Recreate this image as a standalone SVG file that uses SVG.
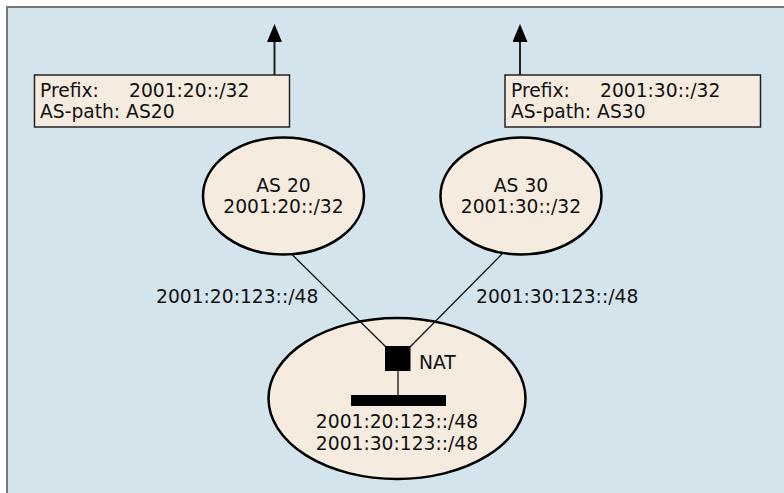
<svg xmlns="http://www.w3.org/2000/svg" width="784" height="493" viewBox="0 0 784 493">
<defs>
<style>
.t{font-family:"DejaVu Sans",Verdana,sans-serif;font-size:18.7px;fill:#111}
.c{text-anchor:middle}
.box{fill:#f5ecdf;stroke:#222;stroke-width:1.5}
.ell{fill:#f5ecdf;stroke:#000;stroke-width:2.5}
.ln{stroke:#111;stroke-width:1.3;fill:none}
.ar{stroke:#222;stroke-width:2;fill:none}
</style>
<marker id="ah" viewBox="0 0 18 15" refX="0" refY="7.5" markerWidth="18" markerHeight="15" markerUnits="userSpaceOnUse" orient="auto">
<path d="M0 0 L18 7.5 L0 15 Z" fill="#000"/>
</marker>
</defs>
<rect x="0" y="0" width="784" height="493" fill="#ffffff"/>
<rect x="6" y="6" width="778" height="487" fill="#d4e4ec"/>
<path d="M7 493 V7 H784" fill="none" stroke="#777" stroke-width="2"/>

<g id="site">
<ellipse class="ell" cx="397" cy="398.5" rx="128.5" ry="80.5"/>
<text class="t c" x="397" y="428">2001:20:123::/48</text>
<text class="t c" x="397" y="450">2001:30:123::/48</text>
</g>

<g id="connectors">
<line class="ln" x1="291.5" y1="254" x2="386" y2="347"/>
<line class="ln" x1="502" y1="254" x2="410" y2="347"/>
<line class="ln" x1="398" y1="370" x2="398" y2="396"/>
<line class="ar" x1="274.5" y1="75" x2="274.5" y2="42" marker-end="url(#ah)"/>
<line class="ar" x1="520" y1="75" x2="520" y2="42" marker-end="url(#ah)"/>
</g>

<g id="box20">
<rect class="box" x="34.5" y="75" width="255" height="52"/>
<text class="t" x="40" y="97">Prefix:</text>
<text class="t" x="129" y="97">2001:20::/32</text>
<text class="t" x="40" y="118">AS-path: AS20</text>
</g>

<g id="box30">
<rect class="box" x="505" y="75" width="255.5" height="52"/>
<text class="t" x="511" y="97">Prefix:</text>
<text class="t" x="600" y="97">2001:30::/32</text>
<text class="t" x="511" y="118">AS-path: AS30</text>
</g>

<g id="as20">
<ellipse class="ell" cx="283.5" cy="196" rx="80.5" ry="58.5"/>
<text class="t c" x="283.5" y="192">AS 20</text>
<text class="t c" x="283.5" y="213">2001:20::/32</text>
</g>

<g id="as30">
<ellipse class="ell" cx="521" cy="196" rx="80.5" ry="58.5"/>
<text class="t c" x="521" y="192">AS 30</text>
<text class="t c" x="521" y="213">2001:30::/32</text>
</g>

<g id="label20">
<text class="t" x="156" y="303">2001:20:123::/48</text>
</g>
<g id="label30">
<text class="t" x="476" y="303">2001:30:123::/48</text>
</g>

<g id="nat">
<rect x="385" y="346" width="25.5" height="25" fill="#000"/>
<text class="t" x="419" y="369">NAT</text>
</g>

<g id="lan">
<rect x="351" y="395" width="95" height="11" fill="#000"/>
</g>
</svg>
